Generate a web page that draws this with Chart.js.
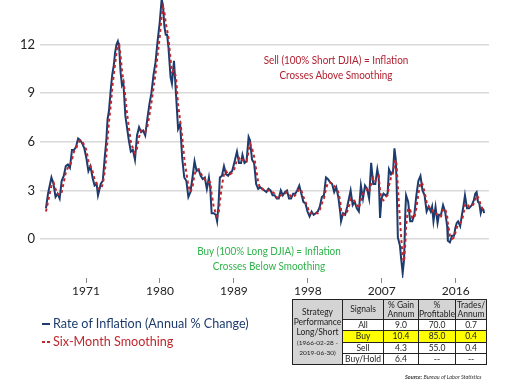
<!DOCTYPE html>
<html><head><meta charset="utf-8">
<script src="https://cdn.jsdelivr.net/npm/chart.js@4.4.1/dist/chart.umd.min.js"></script>
<style>
html,body{margin:0;padding:0;background:#fff;}
#wrap{position:relative;width:513px;height:389px;overflow:hidden;font-family:Lato,"Open Sans",sans-serif;}
#c{position:absolute;left:0;top:0;}
.ann{position:absolute;text-align:center;font-size:11px;line-height:15px;white-space:nowrap;transform:translateX(-50%) scaleX(0.9);}
.leg{position:absolute;left:53px;font-size:13px;white-space:nowrap;line-height:16px;transform-origin:0 0;transform:scaleX(0.97);}
.key{position:absolute;height:2px;}
table{position:absolute;left:292px;top:299px;border-collapse:collapse;font-size:8.5px;color:#222;text-align:center;}
td{border:1px solid #222;padding:0;line-height:9px;}
.g{background:#d4d4d4;}
.y{background:#ffff00;}
#src{position:absolute;left:405px;top:374px;font-size:5.5px;font-style:italic;color:#333;white-space:nowrap;}
</style></head>
<body><div id="wrap">
<canvas id="c" width="513" height="389"></canvas>
<div class="ann" style="left:336px;top:52px;color:#b2202f;">Sell (100% Short DJIA) = Inflation<br>Crosses Above Smoothing</div>
<div class="ann" style="left:269px;top:243px;color:#2eb34a;">Buy (100% Long DJIA) = Inflation<br>Crosses Below Smoothing</div>
<div class="key" style="left:42px;top:323px;width:8px;background:#1d3c6e;"></div>
<div class="key" style="left:42px;top:341px;width:3px;background:#c0272d;"></div>
<div class="key" style="left:47px;top:341px;width:3px;background:#c0272d;"></div>
<div class="leg" style="top:315px;color:#1d3c6e;">Rate of Inflation (Annual % Change)</div>
<div class="leg" style="top:333px;color:#c0272d;">Six-Month Smoothing</div>
<table id="tbl">
<tr style="height:20px;"><td class="g" rowspan="5" style="width:49px;line-height:10px;">Strategy<br>Performance<br>Long/Short<br><span style="font-size:6.5px;line-height:9px;">(1966-02-28 -<br>2019-06-30)</span></td>
<td class="g" style="width:40px;">Signals</td><td class="g" style="width:34px;">% Gain<br>Annum</td><td class="g" style="width:36px;">%<br>Profitable</td><td class="g" style="width:30px;">Trades/<br>Annum</td></tr>
<tr style="height:11px;"><td>All</td><td>9.0</td><td>70.0</td><td>0.7</td></tr>
<tr style="height:12px;" class="y"><td>Buy</td><td>10.4</td><td>85.0</td><td>0.4</td></tr>
<tr style="height:11px;"><td>Sell</td><td>4.3</td><td>55.0</td><td>0.4</td></tr>
<tr style="height:11px;"><td>Buy/Hold</td><td>6.4</td><td>--</td><td>--</td></tr>
</table>
<div id="src"><b>Source:</b> Bureau of Labor Statistics</div>
</div>
<script>
const dates = ["1966-02","1966-05","1966-08","1966-10","1967-01","1967-04","1967-07","1967-10","1968-01","1968-04","1968-07","1968-10",
"1969-01","1969-04","1969-07","1969-10","1970-01","1970-04","1970-07","1970-10","1971-01","1971-04","1971-07","1971-10",
"1972-01","1972-04","1972-06","1972-10","1973-01","1973-04","1973-06","1973-08","1973-10","1974-01","1974-03","1974-05","1974-07","1974-09","1974-11",
"1975-01","1975-03","1975-05","1975-07","1975-10","1975-12","1976-03","1976-06","1976-09","1976-12","1977-03","1977-06","1977-09","1977-12",
"1978-03","1978-06","1978-09","1978-12","1979-03","1979-06","1979-09","1979-12","1980-03","1980-05","1980-07","1980-09","1980-11",
"1981-01","1981-04","1981-06","1981-09","1981-12","1982-03","1982-06","1982-09","1982-12","1983-03","1983-06","1983-09","1983-12",
"1984-03","1984-06","1984-09","1984-12","1985-03","1985-06","1985-09","1985-12","1986-02","1986-04","1986-07","1986-10","1986-12",
"1987-02","1987-04","1987-07","1987-10","1988-01","1988-04","1988-07","1988-10","1989-01","1989-05","1989-08","1989-11",
"1990-01","1990-04","1990-07","1990-10","1990-12","1991-03","1991-06","1991-09","1991-12","1992-03","1992-06","1992-09","1992-12",
"1993-03","1993-06","1993-09","1993-12","1994-03","1994-06","1994-09","1994-12","1995-03","1995-06","1995-09","1995-12",
"1996-03","1996-06","1996-09","1996-12","1997-03","1997-06","1997-09","1997-12","1998-03","1998-06","1998-09","1998-12",
"1999-03","1999-06","1999-09","1999-12","2000-03","2000-06","2000-09","2000-12","2001-03","2001-06","2001-09","2001-12",
"2002-01","2002-04","2002-07","2002-10","2003-01","2003-03","2003-06","2003-09","2003-12","2004-03","2004-06","2004-09","2004-12",
"2005-03","2005-06","2005-09","2005-12","2006-03","2006-06","2006-08","2006-10","2006-12","2007-03","2007-06","2007-09","2007-11",
"2008-02","2008-05","2008-07","2008-09","2008-10","2008-12","2009-03","2009-05","2009-07","2009-09","2009-11","2009-12",
"2010-03","2010-06","2010-09","2010-12","2011-03","2011-06","2011-09","2011-12","2012-03","2012-06","2012-09","2012-12",
"2013-02","2013-04","2013-07","2013-10","2013-12","2014-03","2014-06","2014-09","2014-12","2015-01","2015-04","2015-07","2015-10","2015-12",
"2016-02","2016-04","2016-07","2016-10","2016-12","2017-02","2017-05","2017-08","2017-10","2017-12","2018-03","2018-05","2018-07","2018-09","2018-11",
"2019-01","2019-03","2019-05","2019-06"];
const inflation = [1.9,2.8,3.4,3.8,3.4,2.6,2.8,2.5,3.6,3.9,4.5,4.6,
4.4,5.5,5.5,5.7,6.2,6.1,5.9,5.6,5.0,4.2,4.5,3.8,
3.3,3.4,2.7,3.4,3.6,5.1,6.0,7.4,7.9,9.4,10.2,10.7,11.5,12.0,12.2,
11.8,10.3,9.5,9.7,7.6,7.0,6.1,5.4,5.5,4.9,6.4,6.9,6.6,6.7,
6.4,7.4,8.3,9.0,10.1,10.9,12.2,13.3,14.8,14.4,13.1,12.6,12.6,
11.8,10.0,9.6,11.0,8.9,6.8,7.1,5.0,3.8,3.6,2.6,2.9,3.8,
4.8,4.2,4.3,3.9,3.7,3.8,3.1,3.8,3.1,1.6,1.6,1.5,1.1,
2.1,3.8,3.9,4.5,4.0,3.9,4.1,4.2,4.7,5.4,4.7,4.7,
5.2,4.7,4.8,6.3,6.1,4.9,4.7,3.4,3.1,3.2,3.1,3.0,2.9,
3.1,3.0,2.7,2.7,2.5,2.5,3.0,2.7,2.9,3.0,2.5,2.5,
2.8,2.8,3.0,3.3,2.8,2.3,2.2,1.7,1.4,1.7,1.5,1.6,
1.7,2.0,2.6,2.7,3.8,3.7,3.5,3.4,2.9,3.2,2.6,1.6,
1.1,1.6,1.5,2.0,2.6,3.0,2.1,2.3,1.9,1.7,3.3,2.5,3.3,
3.1,2.5,4.7,3.4,3.4,4.3,3.8,1.3,2.5,2.8,2.7,2.8,4.3,
4.0,4.2,5.6,4.9,3.7,0.1,-0.4,-1.3,-2.1,-1.3,1.8,2.7,
2.3,1.1,1.1,1.5,2.7,3.6,3.9,3.0,2.7,1.7,2.0,1.7,
2.0,1.1,2.0,1.0,1.5,1.5,2.1,1.7,0.8,-0.1,-0.2,0.2,0.2,0.7,
1.0,1.1,0.8,1.6,2.1,2.7,1.9,1.9,2.0,2.1,2.4,2.8,2.9,2.3,2.2,
1.6,1.9,1.8,1.6];
const smoothing = [1.7,2.3,2.9,3.3,3.5,3.1,2.8,2.7,2.9,3.5,4.1,4.4,
4.5,4.9,5.4,5.6,5.9,6.1,6.0,5.8,5.5,4.8,4.5,4.2,
3.7,3.4,3.1,3.1,3.4,4.2,5.0,6.2,7.2,8.4,9.4,10.1,10.8,11.5,11.9,
12.0,11.3,10.4,9.8,8.8,7.9,6.9,6.0,5.6,5.3,5.6,6.3,6.7,6.7,
6.6,6.9,7.6,8.4,9.3,10.2,11.3,12.4,13.8,14.3,14.0,13.3,12.9,
12.4,11.1,10.3,10.4,10.0,8.3,7.3,6.3,5.0,4.1,3.3,2.9,3.2,
4.0,4.3,4.3,4.1,3.8,3.7,3.5,3.5,3.5,2.8,2.0,1.6,1.4,
1.5,2.3,3.3,4.0,4.2,4.0,4.0,4.1,4.3,4.9,5.0,4.8,
4.9,4.9,4.8,5.4,5.9,5.6,5.1,4.3,3.5,3.1,3.1,3.0,3.0,
3.0,3.0,2.9,2.8,2.6,2.5,2.7,2.8,2.8,2.9,2.8,2.6,
2.6,2.7,2.9,3.1,3.0,2.6,2.3,2.0,1.6,1.6,1.6,1.6,
1.6,1.8,2.2,2.5,3.1,3.5,3.5,3.4,3.3,3.1,2.9,2.3,
1.8,1.5,1.5,1.7,2.1,2.5,2.5,2.3,2.1,1.9,2.4,2.8,2.9,
3.1,2.9,3.4,3.8,3.6,3.8,3.9,3.0,2.5,2.4,2.6,2.7,3.3,
3.8,4.1,4.7,4.9,4.6,3.2,1.2,0.0,-1.1,-1.4,-0.2,0.8,
1.9,1.8,1.3,1.3,1.9,2.8,3.5,3.4,2.9,2.3,2.0,1.9,
1.9,1.6,1.6,1.5,1.4,1.4,1.8,1.9,1.4,1.0,0.2,0.0,0.1,0.4,
0.7,0.9,1.0,1.2,1.6,2.1,2.2,2.0,2.0,2.0,2.2,2.4,2.7,2.6,2.4,
2.1,1.9,1.8,1.7];
const xTickYears = [1971,1980,1989,1998,2007,2016];
const yTickValues = [0,3,6,9,12];

function toYear(d){const p=d.split('-');return +p[0]+(+p[1]-0.5)/12;}
const infPts = dates.map((d,i)=>({x:toYear(d),y:inflation[i]}));
const smPts = dates.map((d,i)=>({x:toYear(d),y:smoothing[i]}));

new Chart(document.getElementById('c').getContext('2d'),{
  type:'line',
  data:{datasets:[
    {label:'Six-Month Smoothing',data:smPts,borderColor:'#c0272d',borderDash:[3,3],borderWidth:2,pointRadius:0,tension:0},
    {label:'Rate of Inflation (Annual % Change)',data:infPts,borderColor:'#1d3c6e',borderWidth:2,pointRadius:0,tension:0}
  ]},
  options:{
    responsive:false,animation:false,
    layout:{padding:{left:0,right:24,top:0,bottom:0}},
    plugins:{legend:{display:false},tooltip:{enabled:false}},
    scales:{
      x:{type:'linear',min:1965.4,max:2020.05,
        afterBuildTicks:s=>{s.ticks=xTickYears.map(v=>({value:v}));},
        afterFit:s=>{s.height=111;s.paddingLeft=0;s.paddingRight=0;},
        grid:{drawOnChartArea:false,drawTicks:true,tickLength:5,color:'#888',lineWidth:1},
        border:{display:false},
        ticks:{padding:1,color:'#222',font:{family:'Lato',size:12},callback:v=>String(v),maxRotation:0,autoSkip:false}},
      y:{min:-2.4,max:14.75,
        afterBuildTicks:s=>{s.ticks=yTickValues.map(v=>({value:v}));},
        afterFit:s=>{s.width=40;s.paddingTop=0;s.paddingBottom=0;},
        grid:{color:'#d9d9d9',lineWidth:1.5,drawTicks:false},
        border:{display:false},
        ticks:{padding:5,color:'#222',font:{family:'Lato',size:13},callback:v=>String(v)}}
    }
  }
});
</script>
</body></html>
